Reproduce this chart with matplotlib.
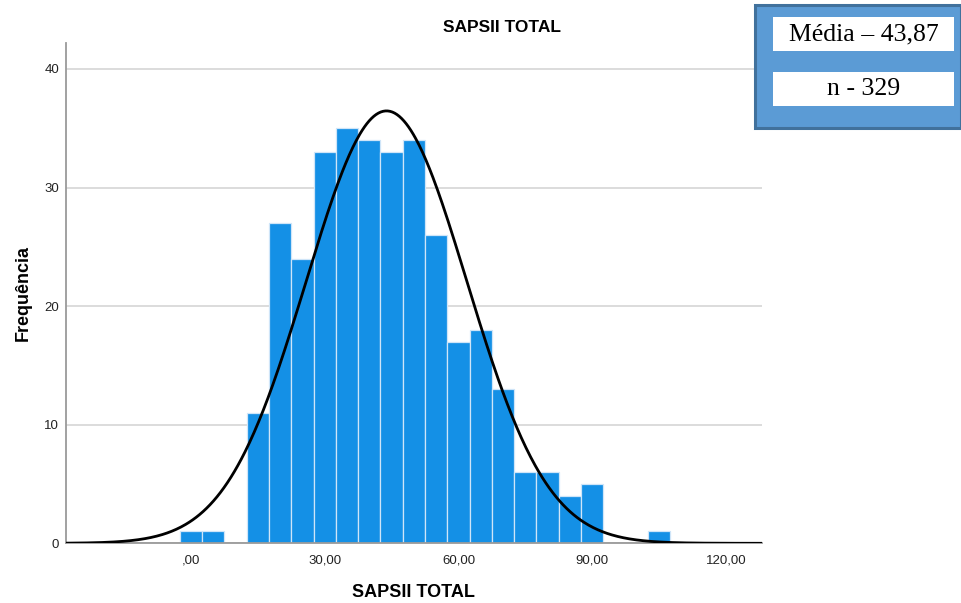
import numpy as np
import matplotlib
matplotlib.use("Agg")
import matplotlib.pyplot as plt
from matplotlib.patches import Rectangle

# SAPS II total score, histogram with bins of width 5 (centres below)
bin_centres = [0, 5, 10, 15, 20, 25, 30, 35, 40, 45, 50, 55, 60, 65,
               70, 75, 80, 85, 90, 95, 100, 105]
counts = [1, 1, 0, 11, 27, 24, 33, 35, 34, 33, 34, 26, 17, 18,
          13, 6, 6, 4, 5, 0, 0, 1]
bin_width = 5

n_total = 329
mean_score = 43.87
sd_score = 18.0

x_ticks = [0, 30, 60, 90, 120]
x_tick_labels = [",00", "30,00", "60,00", "90,00", "120,00"]
y_ticks = [0, 10, 20, 30, 40]

plt.rcParams["font.family"] = ["Liberation Sans", "DejaVu Sans"]

fig = plt.figure(figsize=(9.62, 6.03), dpi=100)
ax = fig.add_axes([0.0686, 0.099, 0.7232, 0.830])

ax.set_axisbelow(True)
ax.yaxis.grid(True, color="#d6d6d6", linewidth=1.2)

ax.bar(bin_centres, counts, width=bin_width, color="#1490e6",
       edgecolor="#cfe5f8", linewidth=0.9, zorder=2)

# fitted normal curve scaled to the histogram counts
xs = np.linspace(-28, 128, 600)
ys = n_total * bin_width / (sd_score * np.sqrt(2 * np.pi)) * \
    np.exp(-0.5 * ((xs - mean_score) / sd_score) ** 2)
ax.plot(xs, ys, color="black", linewidth=2.0, zorder=3)

ax.set_xlim(-28, 128)
ax.set_ylim(0, 42.2)
ax.set_xticks(x_ticks)
ax.set_xticklabels(x_tick_labels)
ax.set_yticks(y_ticks)
ax.tick_params(axis="both", length=0, labelsize=9.5, colors="#222222")
ax.tick_params(axis="x", pad=8)
ax.tick_params(axis="y", pad=5)

for side in ("top", "right"):
    ax.spines[side].set_visible(False)
ax.spines["left"].set_color("#9a9a9a")
ax.spines["left"].set_linewidth(1.3)
ax.spines["bottom"].set_color("#9a9a9a")
ax.spines["bottom"].set_linewidth(1.3)

ax.set_xlabel("SAPSII TOTAL", fontsize=13, fontweight="bold", labelpad=13)
ax.set_ylabel("Frequência", fontsize=13, fontweight="bold", labelpad=9)

fig.text(0.522, 0.955, "SAPSII TOTAL", fontsize=12.5, fontweight="bold",
         ha="center", va="center")

# summary box in the top-right corner
W, H = 962, 603
def px_rect(x0, y0, x1, y1, **kw):
    fig.patches.append(Rectangle((x0 / W, 1 - y1 / H), (x1 - x0) / W,
                                 (y1 - y0) / H, transform=fig.transFigure, **kw))

px_rect(755, 5, 961, 128, facecolor="#5b9bd5", edgecolor="#41719c",
        linewidth=2.2)
px_rect(773, 17, 954, 51, facecolor="white", edgecolor="none")
px_rect(773, 72, 954, 106, facecolor="white", edgecolor="none")

serif = ["Liberation Serif", "DejaVu Serif"]
fig.text(863.5 / W, 1 - 34 / H, "Média – 43,87", family=serif, fontsize=18.5,
         ha="center", va="center")
fig.text(863.5 / W, 1 - 89 / H, "n - 329", family=serif, fontsize=18.5,
         ha="center", va="center")

fig.savefig("out.png", dpi=100)
